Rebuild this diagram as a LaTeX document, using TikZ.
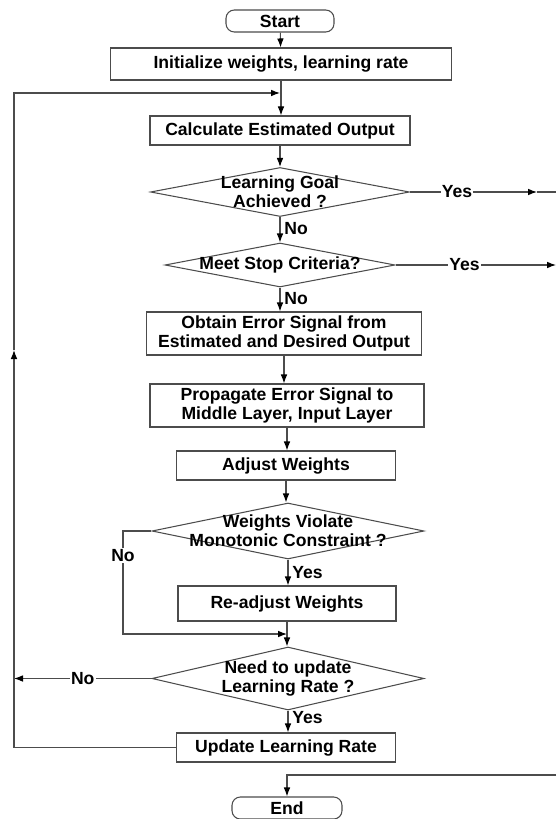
\documentclass[tikz,border=0pt]{standalone}
\usepackage{fontspec}
\setmainfont{Liberation Sans}
\usetikzlibrary{shapes.geometric, arrows.meta}

\begin{document}
\begin{tikzpicture}[x = 0.03cm, y = -0.03cm,
  font = \fontsize{15}{16}\selectfont\bfseries,
  line/.style = {draw = black!70, line width = 0.9pt},
  flow/.style = {line, -{Latex[black, length = 2.7mm, width = 2mm]}},
  terminal/.style = {line, rounded corners = 0.25cm, minimum width = 3.3cm, minimum height = 0.66cm, inner sep = 0pt},
  process/.style = {line, rectangle, inner sep = 1pt, align = center},
  decision/.style = {line, diamond, inner sep = 0pt},
  lbl/.style = {fill = white, inner sep = 1pt}]
\useasboundingbox (0, 0) rectangle (556, 819);

% Steps of the training loop
\node[terminal, minimum width = 3.24cm] (start) at (280, 21) {Start};
\node[process, minimum width = 10.23cm, minimum height = 0.96cm] (init) at (281, 64) {Initialize weights, learning rate};
\node[process, minimum width = 7.8cm, minimum height = 0.87cm] (calc) at (280, 130.5) {Calculate Estimated Output};
\node[decision, minimum width = 7.77cm, minimum height = 1.47cm, label = {[align = center]center:Learning Goal\\Achieved ?}] (goal) at (280, 192) {};
\node[decision, minimum width = 6.9cm, minimum height = 1.32cm, label = {center:Meet Stop Criteria?}] (stop) at (280, 265) {};
\node[process, minimum width = 8.25cm, minimum height = 1.29cm] (error) at (284, 333.5) {Obtain Error Signal from\\Estimated and Desired Output};
\node[process, minimum width = 8.22cm, minimum height = 1.29cm] (prop) at (287, 405.5) {Propagate Error Signal to\\Middle Layer, Input Layer};
\node[process, minimum width = 6.57cm, minimum height = 0.87cm] (adjust) at (286, 465.5) {Adjust Weights};
\node[decision, minimum width = 8.16cm, minimum height = 1.68cm, label = {[align = center]center:Weights Violate\\Monotonic Constraint ?}] (violate) at (288, 531) {};
\node[process, minimum width = 6.54cm, minimum height = 1.05cm] (readjust) at (287, 603.5) {Re-adjust Weights};
\node[decision, minimum width = 8.16cm, minimum height = 1.89cm, label = {[align = center]center:Need to update\\Learning Rate ?}] (needrate) at (288, 678.5) {};
\node[process, minimum width = 6.57cm, minimum height = 0.87cm] (update) at (286, 747.5) {Update Learning Rate};
\node[terminal] (end) at (287, 808) {End};

% Free ends and joints
\coordinate (loop) at (280, 93);
\coordinate (up) at (14, 350);
\coordinate (join) at (287, 634);
\coordinate (left) at (123, 634);
\coordinate (ratel) at (14, 678.5);
\coordinate (yesa) at (537, 192);
\coordinate (yesb) at (556, 192);
\coordinate (yesc) at (556, 265);
\coordinate (back) at (556, 775);


\draw[flow] (start) -- (init);
\draw[flow] (init.south) -- (init.south |- calc.north);
\draw[flow] (calc) -- (goal);

\draw[flow] (goal) -- node[right, pos = 0.45] {No} (stop);
\draw[flow] (stop.south) -- node[right, pos = 0.45] {No} (stop.south |- error.north);
\draw[flow] (error.south) -- (error.south |- prop.north);
\draw[flow] (prop.south) -- (prop.south |- adjust.north);
\draw[flow] (adjust.south) -- (adjust.south |- violate.north);


% Yes branches run off to the right
\draw[flow] (goal.east) -- node[lbl, pos = 0.37] {Yes} (yesa);
\draw[line] (yesa) -- (yesb);
\draw[flow] (stop.east) -- node[lbl, pos = 0.43] {Yes} (yesc);
\draw[flow] (back) -| (end.north);


% Monotonic check
\draw[flow] (violate.south) -- node[right, pos = 0.5] {Yes} (violate.south |- readjust.north);
\draw[flow] (violate.west) -| node[lbl, pos = 0.62] {No} (left) -- (join);
\draw[flow] (readjust.south) -- (readjust.south |- needrate.north);


% Learning rate update and loop back
\draw[flow] (needrate.south) -- node[right, pos = 0.3] {Yes} (needrate.south |- update.north);
\draw[flow] (needrate.west) -- node[lbl, pos = 0.5] {No} (ratel);
\draw[flow] (update.west) -| (up);
\draw[flow] (up) |- (loop);

\end{tikzpicture}
\end{document}
